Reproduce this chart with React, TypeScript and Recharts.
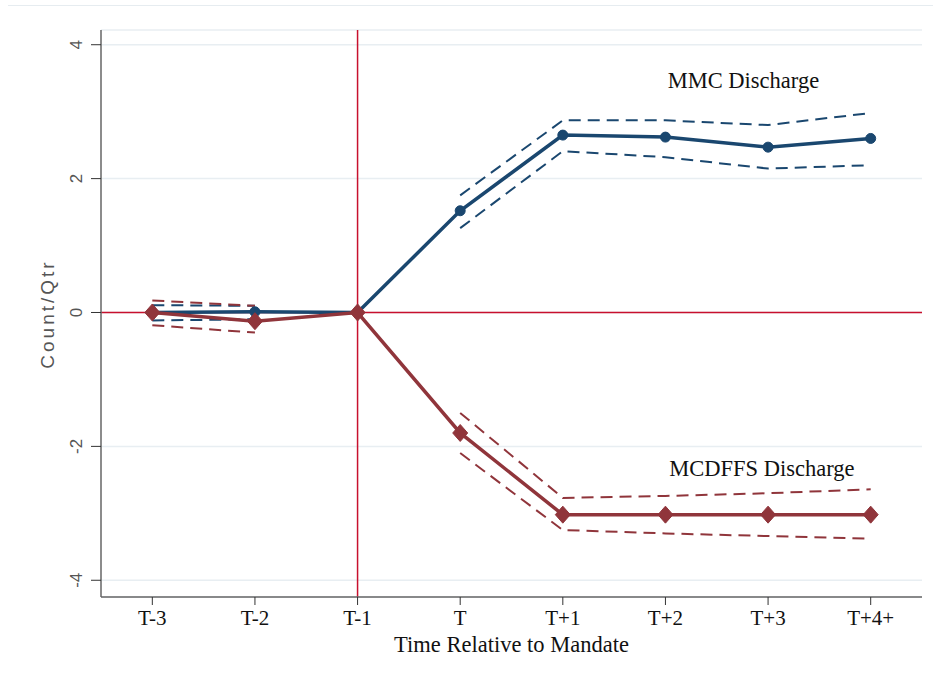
import React from 'react';
import {
  ComposedChart,
  Line,
  XAxis,
  YAxis,
  CartesianGrid,
  ReferenceLine,
  ReferenceDot,
  Label,
} from 'recharts';

const categories = ['T-3', 'T-2', 'T-1', 'T', 'T+1', 'T+2', 'T+3', 'T+4+'];
const mmc = [0.0, 0.01, 0, 1.52, 2.65, 2.62, 2.47, 2.6];
const mmcUpper = [0.11, 0.1, null, 1.75, 2.87, 2.87, 2.8, 2.98];
const mmcLower = [-0.12, -0.1, null, 1.26, 2.41, 2.32, 2.15, 2.2];
const mcdffs = [0.0, -0.13, 0, -1.8, -3.02, -3.02, -3.02, -3.02];
const mcdffsUpper = [0.18, 0.1, null, -1.5, -2.77, -2.74, -2.7, -2.64];
const mcdffsLower = [-0.19, -0.3, null, -2.1, -3.25, -3.3, -3.34, -3.38];
const yTicks = [-4, -2, 0, 2, 4];
const xTicks = categories.map((_, i) => i);

const data = categories.map((c, i) => ({
  x: i,
  mmc: mmc[i],
  mmcUpper: mmcUpper[i],
  mmcLower: mmcLower[i],
  mcdffs: mcdffs[i],
  mcdffsUpper: mcdffsUpper[i],
  mcdffsLower: mcdffsLower[i],
}));

const BLUE = '#1a476f';
const RED = '#90353b';
const CRIMSON = '#c8102e';
const SERIF = '"Liberation Serif", "DejaVu Serif", serif';
const SANS = '"Liberation Sans", "DejaVu Sans", sans-serif';

const Diamond = (props: any) => {
  const { cx, cy, index } = props;
  if (cx == null || cy == null) return <g key={`d-${index}`} />;
  const w = 7.5;
  const h = 8.5;
  return (
    <polygon
      key={`d-${index}`}
      points={`${cx},${cy - h} ${cx + w},${cy} ${cx},${cy + h} ${cx - w},${cy}`}
      fill={RED}
      stroke={RED}
    />
  );
};

const YTick = (props: any) => {
  const { x, y, payload } = props;
  const bx = x - 9;
  return (
    <text
      x={bx}
      y={y}
      transform={`rotate(-90 ${bx} ${y})`}
      textAnchor="middle"
      fill="#555"
      fontFamily={SANS}
      fontSize={17}
    >
      {payload.value}
    </text>
  );
};

const XTick = (props: any) => {
  const { x, y, payload } = props;
  return (
    <text
      x={x}
      y={y + 18}
      textAnchor="middle"
      fill="#111"
      fontFamily={SERIF}
      fontSize={21}
    >
      {categories[payload.value]}
    </text>
  );
};

const YLabel = () => {
  const cx = 54;
  const cy = 314;
  return (
    <text
      x={cx}
      y={cy}
      transform={`rotate(-90 ${cx} ${cy})`}
      textAnchor="middle"
      fill="#555"
      fontFamily={SANS}
      fontSize={19}
      letterSpacing={3}
    >
      Count/Qtr
    </text>
  );
};

const XLabel = (props: any) => {
  const vb = props.viewBox || {};
  const cx = (vb.x || 0) + (vb.width || 0) / 2;
  return (
    <text
      x={cx}
      y={652}
      textAnchor="middle"
      fill="#111"
      fontFamily={SERIF}
      fontSize={22.5}
    >
      Time Relative to Mandate
    </text>
  );
};

export default function App() {
  return (
    <div style={{ position: 'absolute', left: 0, top: 0, width: 933, height: 683, background: '#fff' }}>
      <div
        style={{
          position: 'absolute',
          left: 8,
          top: 5,
          width: 925,
          height: 1,
          background: '#e6ecf0',
        }}
      />
      <ComposedChart
        width={933}
        height={683}
        data={data}
        margin={{ top: 30, right: 11, bottom: 0, left: 41 }}
      >
        <CartesianGrid
          horizontal
          vertical={false}
          stroke="#e8eef2"
          strokeWidth={1.5}
        />
        <XAxis
          dataKey="x"
          type="number"
          domain={[-0.5, 7.5]}
          ticks={xTicks}
          interval={0}
          height={86}
          axisLine={{ stroke: '#666', strokeWidth: 1.5 }}
          tickLine={{ stroke: '#333', strokeWidth: 1 }}
          tickSize={8}
          tick={<XTick />}
          allowDataOverflow
        >
          <Label content={<XLabel />} />
        </XAxis>
        <YAxis
          type="number"
          domain={[-4.25, 4.22]}
          ticks={yTicks}
          width={60}
          axisLine={{ stroke: '#666', strokeWidth: 1.5 }}
          tickLine={{ stroke: '#333', strokeWidth: 1 }}
          tickSize={10}
          tickMargin={0}
          tick={<YTick />}
          allowDataOverflow
        >
          <Label content={<YLabel />} />
        </YAxis>
        <ReferenceLine y={0} stroke={CRIMSON} strokeWidth={1.5} />
        <ReferenceLine x={2} stroke={CRIMSON} strokeWidth={1.5} />

        <Line
          dataKey="mmcUpper"
          stroke={BLUE}
          strokeWidth={2}
          strokeDasharray="12 7"
          dot={false}
          connectNulls={false}
          isAnimationActive={false}
        />
        <Line
          dataKey="mmcLower"
          stroke={BLUE}
          strokeWidth={2}
          strokeDasharray="12 7"
          dot={false}
          connectNulls={false}
          isAnimationActive={false}
        />
        <Line
          dataKey="mcdffsUpper"
          stroke={RED}
          strokeWidth={2}
          strokeDasharray="12 7"
          dot={false}
          connectNulls={false}
          isAnimationActive={false}
        />
        <Line
          dataKey="mcdffsLower"
          stroke={RED}
          strokeWidth={2}
          strokeDasharray="12 7"
          dot={false}
          connectNulls={false}
          isAnimationActive={false}
        />
        <Line
          dataKey="mmc"
          stroke={BLUE}
          strokeWidth={3.5}
          dot={{ r: 5, fill: BLUE, stroke: BLUE, strokeWidth: 1 }}
          isAnimationActive={false}
        />
        <Line
          dataKey="mcdffs"
          stroke={RED}
          strokeWidth={3.5}
          dot={<Diamond />}
          isAnimationActive={false}
        />

        <ReferenceDot x={5.76} y={3.47} r={0} fill="none" stroke="none">
          <Label
            value="MMC Discharge"
            position="center"
            fill="#111"
            fontFamily={SERIF}
            fontSize={22.5}
          />
        </ReferenceDot>
        <ReferenceDot x={5.94} y={-2.32} r={0} fill="none" stroke="none">
          <Label
            value="MCDFFS Discharge"
            position="center"
            fill="#111"
            fontFamily={SERIF}
            fontSize={22.5}
          />
        </ReferenceDot>
      </ComposedChart>
    </div>
  );
}
